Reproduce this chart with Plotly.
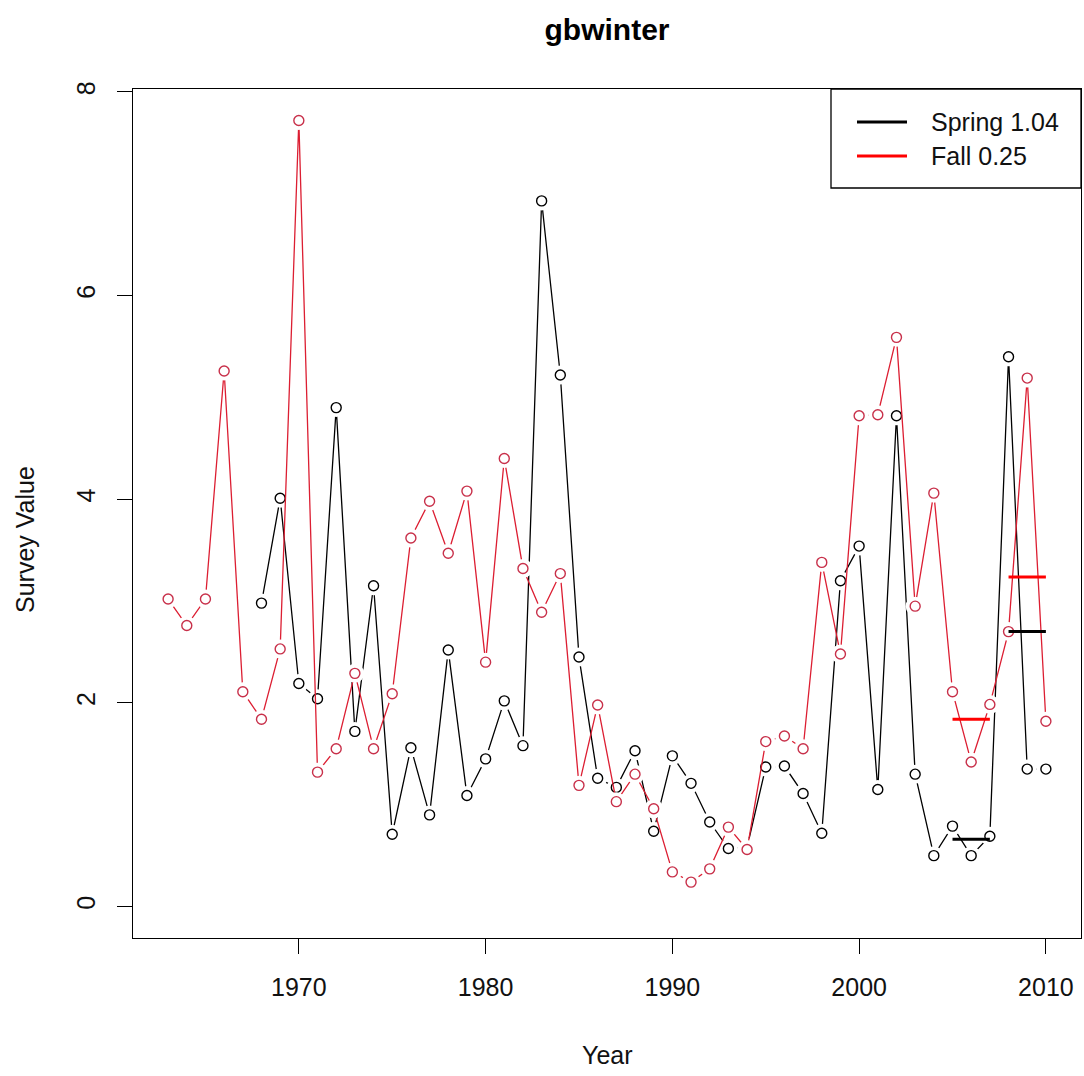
import plotly.graph_objects as go
import numpy as np

# ---- data ----
spring_years = list(range(1968, 2011))
spring_vals = [2.98, 4.01, 2.19, 2.04, 4.90, 1.72, 3.15, 0.71, 1.56, 0.90,
               2.52, 1.09, 1.45, 2.02, 1.58, 6.93, 5.22, 2.45, 1.26, 1.17,
               1.53, 0.74, 1.48, 1.21, 0.83, 0.57, 0.58, 1.37, 1.38, 1.11,
               0.72, 3.20, 3.54, 1.15, 4.82, 1.30, 0.50, 0.79, 0.50, 0.69,
               5.40, 1.35, 1.35]
fall_years = list(range(1963, 2011))
fall_vals = [3.02, 2.76, 3.02, 5.26, 2.11, 1.84, 2.53, 7.72, 1.32, 1.55,
             2.29, 1.55, 2.09, 3.62, 3.98, 3.47, 4.08, 2.40, 4.40, 3.32,
             2.89, 3.27, 1.19, 1.98, 1.03, 1.30, 0.96, 0.34, 0.24, 0.37,
             0.78, 0.56, 1.62, 1.675, 1.55, 3.38, 2.48, 4.82, 4.83, 5.59,
             2.95, 4.06, 2.11, 1.42, 1.985, 2.70, 5.19, 1.82]
legend_labels = ["Spring 1.04", "Fall 0.25"]
x_ticks = [1970, 1980, 1990, 2000, 2010]
y_ticks = [0, 2, 4, 6, 8]
mean_blocks = [(2005, 2007), (2008, 2010)]

BLACK = "black"
RED_LINE = "#dc1e32"
RED_PT = "#c8304a"
FONT = "Liberation Sans, Arial, sans-serif"

W, H = 1084, 1076
L, R, T, B = 133, 3, 89, 138
pw, ph = W - L - R, H - T - B

fig = go.Figure()

def add_series(years, vals, lcol, pcol):
    fig.add_trace(go.Scatter(x=years, y=vals, mode="lines",
                             line=dict(color=lcol, width=1.3),
                             showlegend=False, hoverinfo="skip"))
    fig.add_trace(go.Scatter(x=years, y=vals, mode="markers",
                             marker=dict(symbol="circle", size=19, color="white",
                                         line=dict(width=0)),
                             showlegend=False, hoverinfo="skip"))
    fig.add_trace(go.Scatter(x=years, y=vals, mode="markers",
                             marker=dict(symbol="circle-open", size=10, color=pcol,
                                         line=dict(width=1.4, color=pcol)),
                             showlegend=False))

add_series(spring_years, spring_vals, BLACK, BLACK)
add_series(fall_years, fall_vals, RED_LINE, RED_PT)

# block means
for years, vals, col in [(spring_years, spring_vals, BLACK), (fall_years, fall_vals, "red")]:
    for a, b in mean_blocks:
        sel = [v for y, v in zip(years, vals) if a <= y <= b]
        m = float(np.mean(sel))
        fig.add_trace(go.Scatter(x=[a, b], y=[m, m], mode="lines",
                                 line=dict(color=col, width=3),
                                 showlegend=False, hoverinfo="skip"))

# manual legend (R style box)
def px_x(p):
    return (p - L) / pw
def px_y(p):
    return (H - B - p) / ph

fig.add_shape(type="rect", xref="paper", yref="paper",
              x0=px_x(831), x1=1, y0=px_y(188), y1=1,
              line=dict(color="black", width=1.3), fillcolor="white", layer="above")
for lab, col, yy in [(legend_labels[0], BLACK, 122), (legend_labels[1], "red", 156)]:
    fig.add_shape(type="line", xref="paper", yref="paper",
                  x0=px_x(857), x1=px_x(907), y0=px_y(yy), y1=px_y(yy),
                  line=dict(color=col, width=3), layer="above")
    fig.add_annotation(xref="paper", yref="paper", x=px_x(929), y=px_y(yy),
                       text=lab, showarrow=False, xanchor="left", yanchor="middle",
                       font=dict(family=FONT, size=25, color="#111"))

# axis titles
fig.add_annotation(xref="paper", yref="paper", x=(607 - L) / pw, y=px_y(1055),
                   text="Year", showarrow=False, xanchor="center", yanchor="middle",
                   font=dict(family=FONT, size=25, color="#111"))
fig.add_annotation(xref="paper", yref="paper", x=px_x(25), y=px_y(540),
                   text="Survey Value", showarrow=False, textangle=-90,
                   xanchor="center", yanchor="middle",
                   font=dict(family=FONT, size=25, color="#111"))

fig.update_layout(
    width=W, height=H,
    margin=dict(l=L, r=R, t=T, b=B),
    paper_bgcolor="white", plot_bgcolor="white",
    showlegend=False,
    title=dict(text="<b>gbwinter</b>", x=(607) / W, xanchor="center",
               y=1 - 29 / H, yanchor="middle",
               font=dict(family=FONT, size=30, color="black")),
    font=dict(family=FONT, color="#111"),
)
fig.update_xaxes(range=[1961.12, 2011.88], tickvals=x_ticks,
                 showgrid=False, zeroline=False,
                 showline=True, linecolor="black", linewidth=1.3, mirror=True,
                 ticks="outside", ticklen=15, tickwidth=1.3, tickcolor="black",
                 ticklabelstandoff=12,
                 tickfont=dict(family=FONT, size=25, color="#111"))
fig.update_yaxes(range=[-0.309, 8.029], tickvals=y_ticks,
                 showgrid=False, zeroline=False,
                 showline=True, linecolor="black", linewidth=1.3, mirror=True,
                 ticks="outside", ticklen=15, tickwidth=1.3, tickcolor="black",
                 tickangle=-90, ticklabelstandoff=12,
                 tickfont=dict(family=FONT, size=25, color="#111"))

fig.write_html("out.html")
